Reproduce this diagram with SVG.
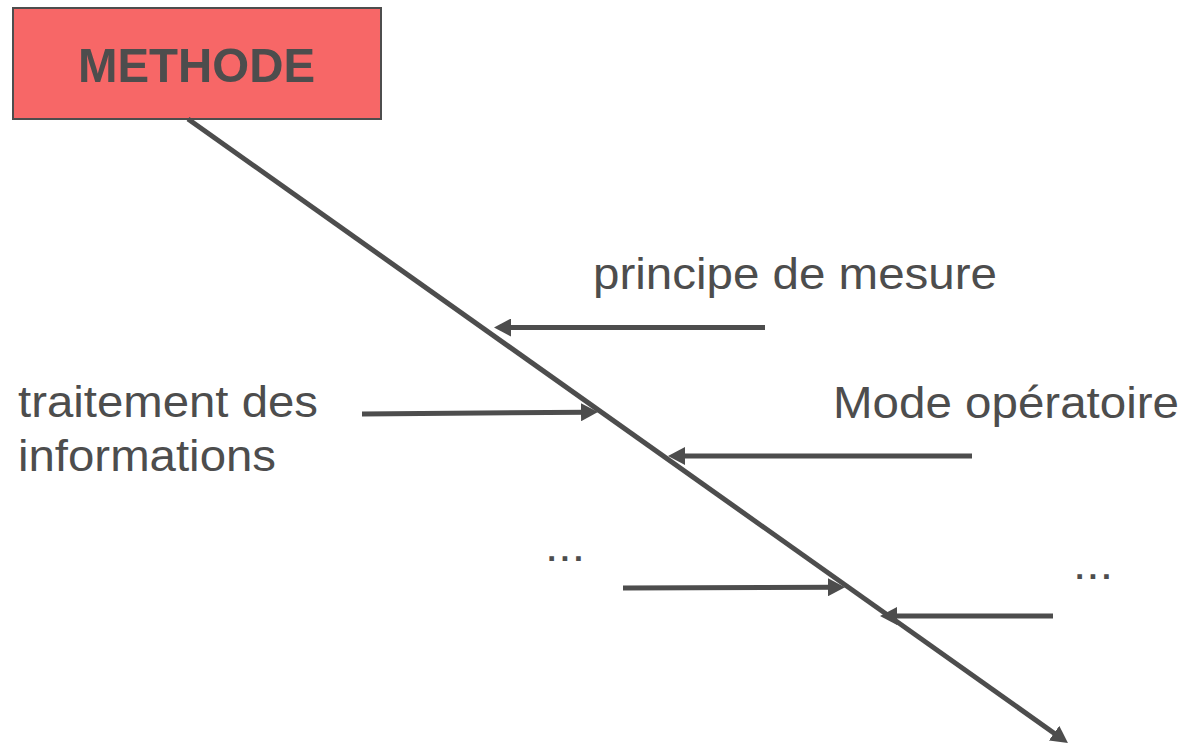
<svg xmlns="http://www.w3.org/2000/svg" width="1186" height="744" viewBox="0 0 1186 744">
  <style>
    .lbl { font-family: "Liberation Sans", Arial, sans-serif; font-size: 45px; fill: #4d4d4d; }
    .title { font-family: "Liberation Sans", Arial, sans-serif; font-size: 49px; font-weight: bold; fill: #4d4d4d; }
    .bone { stroke: #4d4d4d; stroke-width: 5; fill: none; marker-end: url(#head); }
  </style>
  <defs>
    <marker id="head" viewBox="0 0 17 18" refX="7" refY="9" markerUnits="userSpaceOnUse" markerWidth="17" markerHeight="18" orient="auto">
      <path d="M0,0 L17,9 L0,18 Z" fill="#4d4d4d"/>
    </marker>
  </defs>
  <rect width="1186" height="744" fill="#ffffff"/>

  <g id="methode">
    <rect x="13" y="8" width="368" height="111" fill="#f76767" stroke="#4d4d4d" stroke-width="2"/>
    <text class="title" x="196.5" y="82" text-anchor="middle" textLength="237" lengthAdjust="spacingAndGlyphs">METHODE</text>
  </g>

  <g id="connectors">
    <!-- main spine -->
    <path class="bone" d="M188,119 L1059.8,737.2"/>
    <!-- causes -->
    <path class="bone" d="M765,327.5 L504,327.5"/>
    <path class="bone" d="M362,414 L588,412.2"/>
    <path class="bone" d="M972,456 L678,456"/>
    <path class="bone" d="M623,588 L835,587.2"/>
    <path class="bone" d="M1053,616 L890,616"/>
  </g>

  <g id="principe">
    <text class="lbl" x="593" y="289" textLength="404" lengthAdjust="spacingAndGlyphs">principe de mesure</text>
  </g>
  <g id="traitement">
    <text class="lbl" x="18" y="417" textLength="300" lengthAdjust="spacingAndGlyphs">traitement des</text>
    <text class="lbl" x="18" y="471" textLength="258" lengthAdjust="spacingAndGlyphs">informations</text>
  </g>
  <g id="mode">
    <text class="lbl" x="833" y="418" textLength="346" lengthAdjust="spacingAndGlyphs">Mode opératoire</text>
  </g>
  <g id="autre-gauche">
    <text class="lbl" x="545" y="561" textLength="40" lengthAdjust="spacingAndGlyphs">...</text>
  </g>
  <g id="autre-droite">
    <text class="lbl" x="1073" y="579" textLength="40" lengthAdjust="spacingAndGlyphs">...</text>
  </g>
</svg>
